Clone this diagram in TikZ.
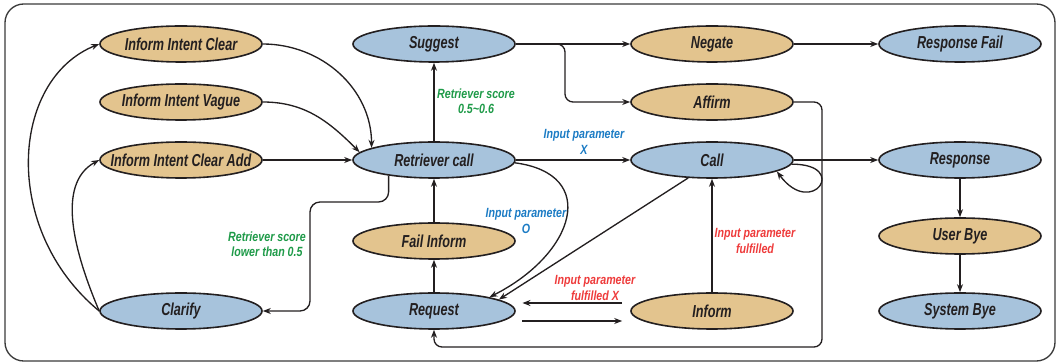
\documentclass[tikz,border=0pt]{standalone}
\usepackage{fontspec}
\setmainfont{Liberation Sans}[FakeStretch=0.8]
\newfontfamily\nodefont{Liberation Sans}[FakeStretch=0.73]
\usetikzlibrary{shapes.geometric,arrows.meta}
\definecolor{tanc}{HTML}{E3C48E}
\definecolor{bluec}{HTML}{A7C3DC}
\definecolor{ink}{HTML}{231F20}
\definecolor{framec}{HTML}{3A3A3A}
\definecolor{lgreen}{HTML}{1E9A48}
\definecolor{lblue}{HTML}{1B7BC4}
\definecolor{lred}{HTML}{EE3B3B}
\newcommand{\nt}[1]{\makebox[0pt]{#1}}
\begin{document}
\begin{tikzpicture}[x=0.75pt,y=0.75pt,
  state/.style={ellipse, draw=ink, line width=1.2pt, minimum width=121.5pt, minimum height=27pt, inner sep=0pt, text=ink, font=\nodefont\fontsize{13}{15}\selectfont\bfseries\itshape},
  tanst/.style={state, fill=tanc},
  bluest/.style={state, fill=bluec},
  edge/.style={draw=ink, line width=1pt, -{Stealth[length=6pt,width=4.5pt]}},
  lab/.style={font=\fontsize{10}{11.5}\selectfont\bfseries\itshape, align=center, inner sep=0pt},
]
\useasboundingbox (0,0) rectangle (1058,364);
\draw[framec, line width=1pt, rounded corners=14pt] (5,3) rectangle (1055,360);

\node[tanst] (clear) at (181,320) {\nt{Inform Intent Clear}};
\node[tanst] (vague) at (181,262) {\nt{Inform Intent Vague}};
\node[tanst] (cadd) at (181,204) {\nt{Inform Intent Clear Add}};
\node[bluest] (clarify) at (181,53) {\nt{Clarify}};
\node[bluest] (suggest) at (434,320) {\nt{Suggest}};
\node[bluest] (rc) at (434,204) {\nt{Retriever call}};
\node[tanst] (fail) at (434,123) {\nt{Fail Inform}};
\node[bluest] (request) at (434,53) {\nt{Request}};
\node[tanst] (negate) at (712,320) {\nt{Negate}};
\node[tanst] (affirm) at (712,262) {\nt{Affirm}};
\node[bluest] (call) at (712,204) {\nt{Call}};
\node[tanst] (inform) at (712,53) {\nt{Inform}};
\node[bluest] (rfail) at (960,320) {\nt{Response Fail}};
\node[bluest] (response) at (960,204) {\nt{Response}};
\node[tanst] (ubye) at (960,128) {\nt{User Bye}};
\node[bluest] (sbye) at (960,53) {\nt{System Bye}};

\draw[edge] (clear.east) to[out=0,in=90] (rc.169);
\draw[edge] (vague.east) to[out=0,in=135] (rc.174);
\draw[edge] (cadd.east) -- (rc.west);
\draw[edge] (clarify.west) .. controls (1,134) and (10,284) .. (clear.west);
\draw[edge] (clarify.west) .. controls (75,110) and (55,180) .. (cadd.west);
\draw[edge, rounded corners=7.5pt] (rc.199) |- (310,162) |- (clarify.east);
\draw[edge] (rc.north) -- (suggest.south);
\draw[edge] (suggest.east) -- (negate.west);
\draw[edge, rounded corners=6pt] (suggest.east) -| (565,290) |- (affirm.west);
\draw[edge] (negate.east) -- (rfail.west);
\draw[edge, rounded corners=6pt] (affirm.east) -| (822,17) -| (request.south);
\draw[edge] (rc.east) -- (call.west);
\draw[edge] (call.east) -- (response.west);
\draw[edge] (call.-3) .. controls (850,200) and (812,145) .. (call.-10);
\draw[edge] (call.217) -- (request.10);
\draw[edge] (rc.-2) .. controls (600,190) and (575,110) .. (request.14);
\draw[edge] (inform.north) -- (call.south);
\draw[edge] ([xshift=-6pt,yshift=6pt]inform.west) -- ([xshift=5pt,yshift=6pt]request.east);
\draw[edge] ([xshift=5pt,yshift=-7.5pt]request.east) -- ([xshift=-6pt,yshift=-7.5pt]inform.west);
\draw[edge] (request.north) -- (fail.south);
\draw[edge] (fail.north) -- (rc.south);
\draw[edge] (response.south) -- (ubye.north);
\draw[edge] (ubye.south) -- (sbye.north);

\node[lab, text=lgreen] (l1) at (267,120) {Retriever score\\lower than 0.5};
\node[lab, text=lgreen] (l2) at (476,263) {Retriever score\\0.5\textasciitilde0.6};
\node[lab, text=lblue] (l3) at (584,222) {Input parameter\\X};
\node[lab, text=lblue] (l4) at (526,143) {Input parameter\\O};
\node[lab, text=lred] (l5) at (595,76) {Input parameter\\fulfilled X};
\node[lab, text=lred] (l6) at (755,123) {Input parameter\\fulfilled};
\end{tikzpicture}
\end{document}
